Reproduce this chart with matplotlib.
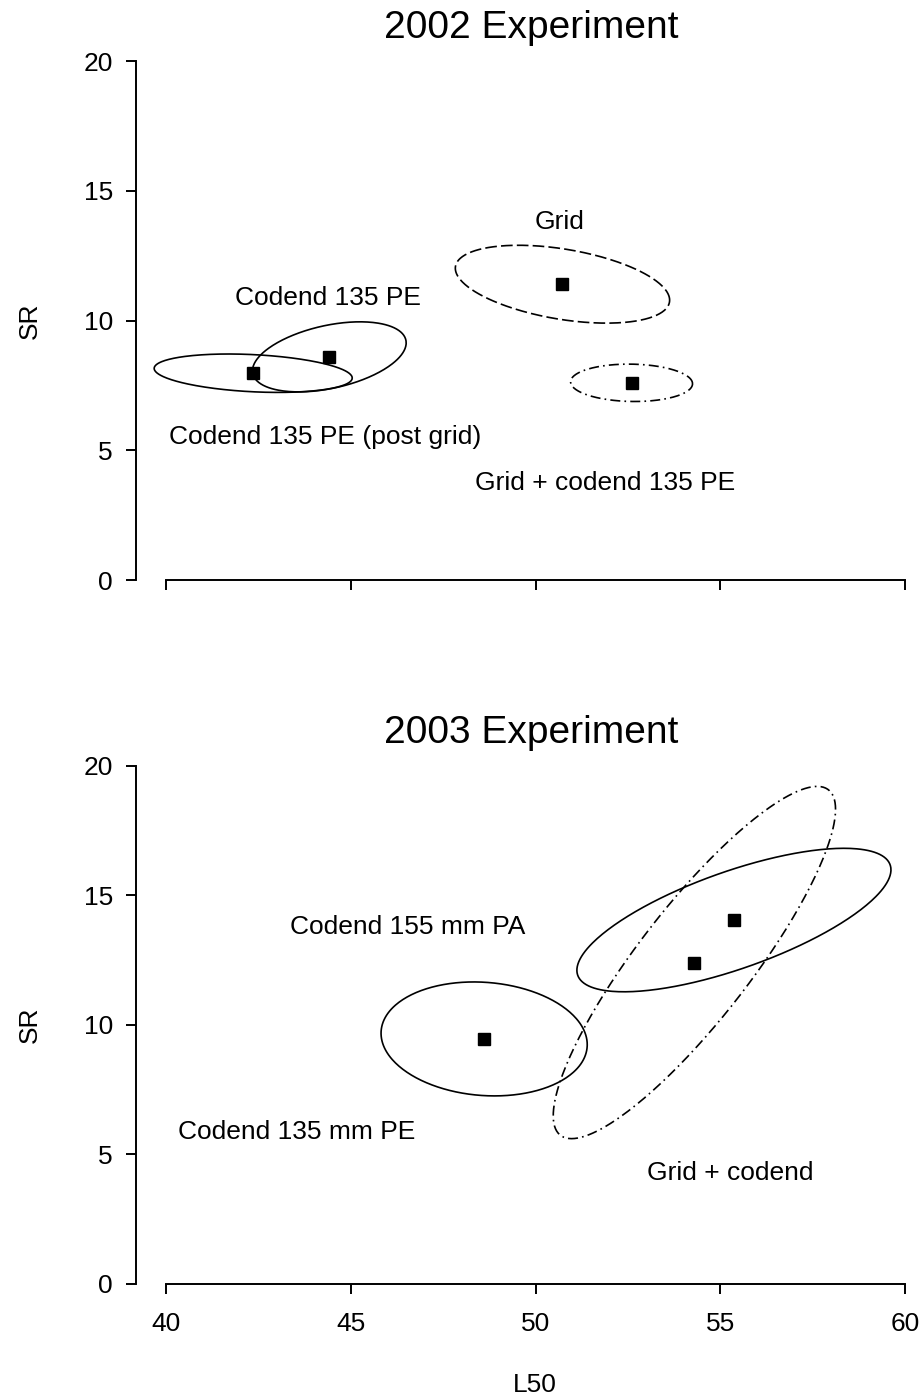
import numpy as np
import matplotlib
matplotlib.use("Agg")
import matplotlib.pyplot as plt

plt.rcParams['font.family'] = ['Liberation Sans', 'DejaVu Sans']

# 2002 experiment: point estimates and confidence ellipse extents
names_2002 = ["Codend 135 PE (post grid)", "Codend 135 PE", "Grid", "Grid + codend 135 PE"]
l50_2002 = [42.36, 44.42, 50.73, 52.60]
sr_2002 = [7.97, 8.60, 11.40, 7.60]
l50_half_2002 = [2.68, 2.08, 2.90, 1.65]
sr_half_2002 = [0.74, 1.35, 1.50, 0.72]
rho_2002 = [-0.25, 0.40, -0.41, -0.05]

# 2003 experiment
names_2003 = ["Codend 135 mm PE", "Codend 155 mm PA", "Grid + codend"]
l50_2003 = [48.61, 55.37, 54.30]
sr_2003 = [9.46, 14.05, 12.41]
l50_half_2003 = [2.79, 4.25, 3.82]
sr_half_2003 = [2.20, 2.77, 6.80]
rho_2003 = [-0.10, 0.70, 0.87]

x_ticks = [40, 45, 50, 55, 60]
y_ticks = [0, 5, 10, 15, 20]

# line styles for the ellipses
solid = (0, ())
dashed = (0, (7, 2.5))
dashdot = (0, (6, 2.5, 1, 2.5))
styles_2002 = [solid, solid, dashed, dashdot]
styles_2003 = [solid, solid, dashdot]

# label positions (data coords)
lab_2002 = [(44.3, 5.51), (44.38, 10.87), (50.66, 13.8), (51.88, 3.74)]
lab_2003 = [(43.55, 5.86), (46.54, 13.8), (55.26, 4.29)]


def ellipse(ax, cx, cy, hx, hy, rho, ls):
    t = np.linspace(0, 2 * np.pi, 300)
    x = cx + hx * np.cos(t)
    y = cy + hy * (rho * np.cos(t) + np.sqrt(1 - rho ** 2) * np.sin(t))
    ax.plot(x, y, color='black', lw=1.2, linestyle=ls)


def panel(ax, title, names, l50, sr, hx, hy, rho, styles, labels, show_x):
    for i in range(len(names)):
        ellipse(ax, l50[i], sr[i], hx[i], hy[i], rho[i], styles[i])
        ax.text(labels[i][0], labels[i][1], names[i], fontsize=19,
                ha='center', va='center')
    ax.plot(l50, sr, 's', color='black', ms=8.5, ls='none')

    ax.set_xlim(39.188, 60.46)
    ax.set_ylim(0, 20)
    ax.set_xticks(x_ticks)
    ax.set_yticks(y_ticks)
    for s in ['top', 'right']:
        ax.spines[s].set_visible(False)
    ax.spines['left'].set_bounds(0, 20)
    ax.spines['bottom'].set_bounds(40, 60)
    for s in ['left', 'bottom']:
        ax.spines[s].set_linewidth(1.4)
    ax.tick_params(axis='y', length=7.2, width=1.4, pad=9.4, labelsize=19)
    ax.tick_params(axis='x', length=7.2, width=1.4, pad=13, labelsize=19,
                   labelbottom=show_x)
    ax.text(0.5025, 1.064, title, transform=ax.transAxes, fontsize=28,
            ha='center', va='center')
    ax.text(-0.135, 0.5, "SR", transform=ax.transAxes, fontsize=19,
            rotation=90, ha='center', va='center')


fig = plt.figure(figsize=(9.22, 14), dpi=100)
ax1 = fig.add_axes([136 / 922, 0.5857, 786 / 922, 0.3707])
ax2 = fig.add_axes([136 / 922, 0.0829, 786 / 922, 0.37])

panel(ax1, "2002 Experiment", names_2002, l50_2002, sr_2002, l50_half_2002,
      sr_half_2002, rho_2002, styles_2002, lab_2002, False)
panel(ax2, "2003 Experiment", names_2003, l50_2003, sr_2003, l50_half_2003,
      sr_half_2003, rho_2003, styles_2003, lab_2003, True)

fig.text(535 / 922, 1 - 1385 / 1400, "L50", fontsize=19, ha='center', va='center')

fig.savefig("out.png", dpi=100)
